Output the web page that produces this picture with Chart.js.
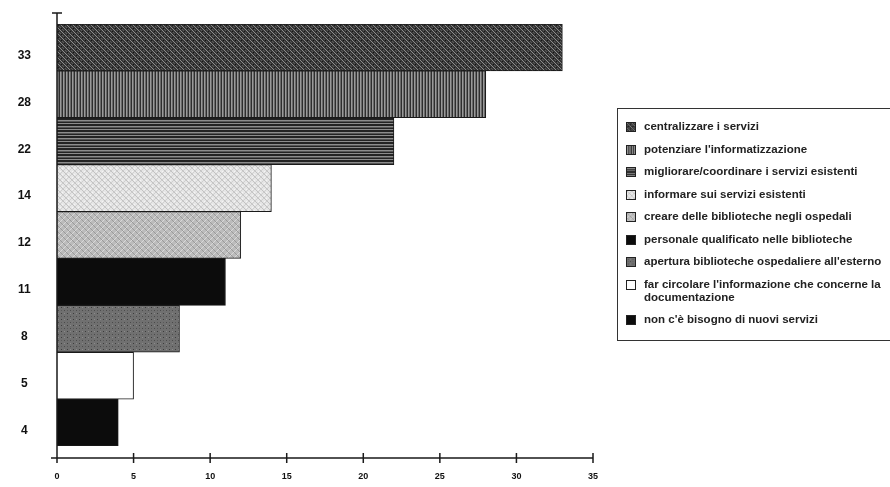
<!DOCTYPE html>
<html>
<head>
<meta charset="utf-8">
<script src="https://cdn.jsdelivr.net/npm/chart.js@4.4.1/dist/chart.umd.min.js"></script>
<style>
  body { margin: 0; background: #fff; }
  #wrap { position: relative; width: 890px; height: 487px; overflow: hidden; }
  #legend {
    position: absolute; left: 617px; top: 108px; width: 300px;
    border: 1.5px solid #333; box-sizing: border-box;
    padding: 11px 0 4px 0;
    font-family: "Liberation Sans", Arial, sans-serif; font-weight: bold; font-size: 11.5px; color: #222;
  }
  .item { position: relative; padding-left: 26px; line-height: 13px; margin-bottom: 9.5px; white-space: nowrap; }
  .item canvas { position: absolute; left: 8px; top: 2px; width: 10px; height: 10px; box-sizing: border-box; border: 1px solid #222; }
</style>
</head>
<body>
<div id="wrap">
  <canvas id="chart" width="890" height="487"></canvas>
  <div id="legend"></div>
</div>
<script>
// values, top bar first
const categories = ['33', '28', '22', '14', '12', '11', '8', '5', '4'];
const values = [33, 28, 22, 14, 12, 11, 8, 5, 4];
const seriesNames = [
    'centralizzare i servizi',
    'potenziare l\'informatizzazione',
    'migliorare/coordinare i servizi esistenti',
    'informare sui servizi esistenti',
    'creare delle biblioteche negli ospedali',
    'personale qualificato nelle biblioteche',
    'apertura biblioteche ospedaliere all\'esterno',
    'far circolare l\'informazione che concerne la documentazione',
    'non c\'è bisogno di nuovi servizi'
];
const patternKinds = ['diag', 'vert', 'horiz', 'light', 'medium', 'black', 'dots', 'white', 'black'];
const xTicks = [0, 5, 10, 15, 20, 25, 30, 35];

// build a small tile for each fill style
function makeTile(kind) {
    const t = document.createElement('canvas');
    t.width = 6; t.height = 6;
    const c = t.getContext('2d');
    function px(x, y, col) { c.fillStyle = col; c.fillRect(x, y, 1, 1); }
    if (kind === 'diag') {
        c.fillStyle = '#353535'; c.fillRect(0, 0, 6, 6);
        for (let i = 0; i < 6; i++) { px(i, i, '#8c8c8c'); px((i + 3) % 6, i, '#5a5a5a'); }
        px(1, 4, '#151515'); px(4, 1, '#1c1c1c');
    } else if (kind === 'vert') {
        c.fillStyle = '#2e2e2e'; c.fillRect(0, 0, 6, 6);
        c.fillStyle = '#9a9a9a'; c.fillRect(0, 0, 1, 6); c.fillRect(3, 0, 1, 6);
        c.fillStyle = '#6a6a6a'; c.fillRect(1, 0, 1, 6); c.fillRect(4, 0, 1, 6);
    } else if (kind === 'horiz') {
        c.fillStyle = '#232323'; c.fillRect(0, 0, 6, 6);
        c.fillStyle = '#8c8c8c'; c.fillRect(0, 0, 6, 1); c.fillRect(0, 3, 6, 1);
        c.fillStyle = '#555'; c.fillRect(0, 1, 6, 1);
    } else if (kind === 'light') {
        c.fillStyle = '#e6e6e6'; c.fillRect(0, 0, 6, 6);
        for (let i = 0; i < 6; i++) { px(i, i, '#c2c2c2'); px(5 - i, i, '#cfcfcf'); }
        px(2, 0, '#f4f4f4'); px(0, 3, '#f4f4f4');
    } else if (kind === 'medium') {
        c.fillStyle = '#bcbcbc'; c.fillRect(0, 0, 6, 6);
        for (let i = 0; i < 6; i++) { px(i, i, '#9a9a9a'); px(5 - i, i, '#d8d8d8'); }
    } else if (kind === 'dots') {
        c.fillStyle = '#707070'; c.fillRect(0, 0, 6, 6);
        px(1, 1, '#3c3c3c'); px(4, 4, '#4a4a4a'); px(4, 1, '#8a8a8a'); px(1, 4, '#5a5a5a');
    } else if (kind === 'black') {
        c.fillStyle = '#0c0c0c'; c.fillRect(0, 0, 6, 6);
    } else {
        c.fillStyle = '#ffffff'; c.fillRect(0, 0, 6, 6);
    }
    return t;
}

const chartCtx = document.getElementById('chart').getContext('2d');
const fills = patternKinds.map(k => chartCtx.createPattern(makeTile(k), 'repeat'));

// axis lines that reach past the bars, like the original
const axisPlugin = {
    id: 'axisLines',
    afterDraw(chart) {
        const ctx = chart.ctx;
        const xs = chart.scales.x;
        const area = chart.chartArea;
        const x0 = xs.getPixelForValue(0);
        const axisY = area.bottom + 12;
        ctx.save();
        ctx.strokeStyle = '#1a1a1a';
        ctx.lineWidth = 1.5;
        ctx.beginPath();
        ctx.moveTo(x0, area.top - 11);
        ctx.lineTo(x0, axisY + 4);
        ctx.moveTo(x0 - 5, area.top - 11);
        ctx.lineTo(x0 + 5, area.top - 11);
        ctx.moveTo(x0 - 6, axisY);
        ctx.lineTo(xs.getPixelForValue(xTicks[xTicks.length - 1]), axisY);
        xTicks.forEach(v => {
            const px = xs.getPixelForValue(v);
            ctx.moveTo(px, axisY - 5);
            ctx.lineTo(px, axisY + 5);
        });
        ctx.stroke();
        ctx.restore();
    }
};

new Chart(chartCtx, {
    type: 'bar',
    data: {
        labels: categories,
        datasets: [{
            data: values,
            backgroundColor: fills,
            borderColor: '#1a1a1a',
            borderWidth: 1,
            categoryPercentage: 1,
            barPercentage: 1
        }]
    },
    options: {
        indexAxis: 'y',
        responsive: false,
        animation: false,
        layout: { padding: { top: 24, right: 297, left: 0, bottom: 0 } },
        plugins: { legend: { display: false }, tooltip: { enabled: false } },
        scales: {
            x: {
                type: 'linear', min: 0, max: 35,
                afterBuildTicks: s => { s.ticks = xTicks.map(v => ({ value: v })); },
                ticks: { padding: 25, color: '#111', font: { family: 'Liberation Sans', size: 9, weight: 'bold' }, maxRotation: 0 },
                grid: { display: false, drawTicks: false },
                border: { display: false },
                afterFit: s => { s.height = 41; }
            },
            y: {
                ticks: { padding: 26, labelOffset: 8, crossAlign: 'center', color: '#111', font: { family: 'Liberation Sans', size: 12, weight: 'bold' } },
                grid: { display: false, drawTicks: false },
                border: { display: false },
                afterFit: s => { s.width = 57; s.paddingTop = 0; s.paddingBottom = 0; }
            }
        }
    },
    plugins: [axisPlugin]
});

// legend box on the right
const legend = document.getElementById('legend');
seriesNames.forEach((name, i) => {
    const row = document.createElement('div');
    row.className = 'item';
    const sw = document.createElement('canvas');
    sw.width = 10; sw.height = 10;
    const sctx = sw.getContext('2d');
    sctx.fillStyle = sctx.createPattern(makeTile(patternKinds[i]), 'repeat');
    sctx.fillRect(0, 0, 10, 10);
    row.appendChild(sw);
    if (i === 7) {
        // the long label wraps after "la" in the original
        const cut = name.lastIndexOf(' ');
        row.appendChild(document.createTextNode(name.slice(0, cut)));
        row.appendChild(document.createElement('br'));
        row.appendChild(document.createTextNode(name.slice(cut + 1)));
    } else {
        row.appendChild(document.createTextNode(name));
    }
    legend.appendChild(row);
});
</script>
</body>
</html>
